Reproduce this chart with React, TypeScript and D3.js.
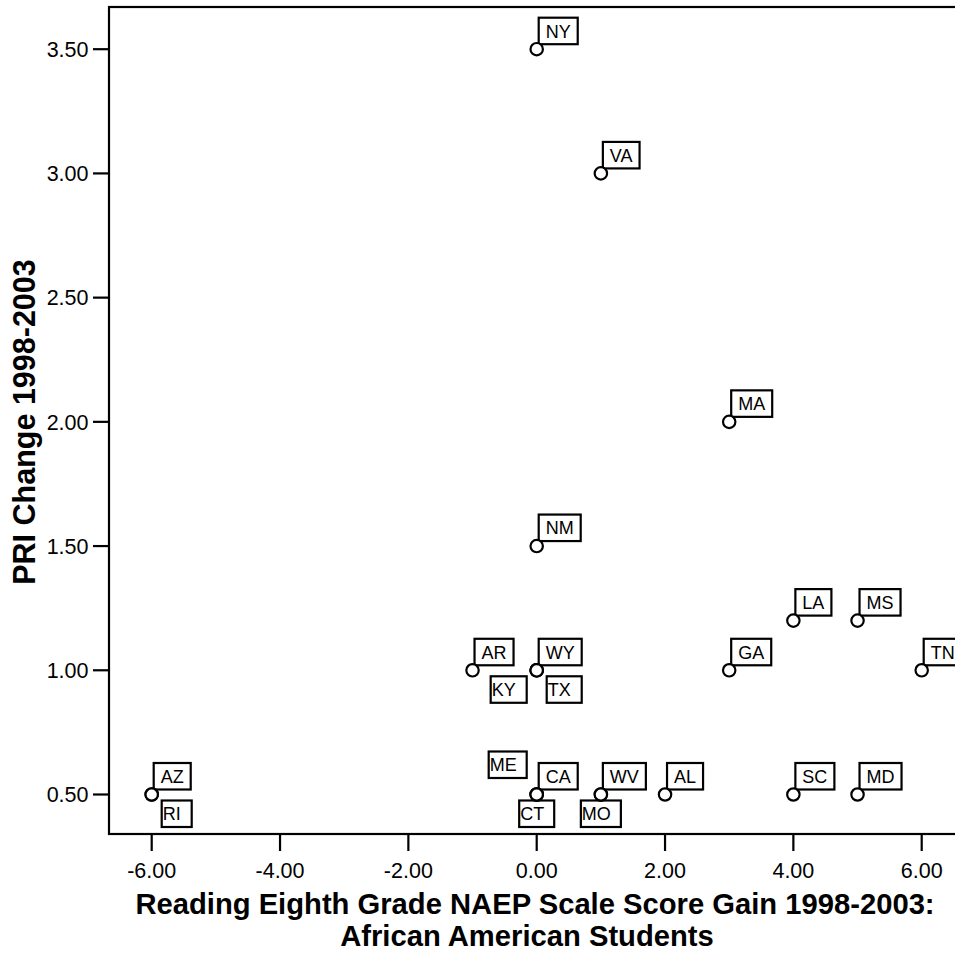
import React, { useEffect, useRef } from "react";
import * as d3 from "d3";

const states = ["NY", "VA", "MA", "NM", "LA", "MS", "AR", "WY", "KY", "TX", "GA", "TN", "AZ", "RI", "ME", "CA", "CT", "WV", "MO", "AL", "SC", "MD"];
const naepGain = [0, 1, 3, 0, 4, 5, -1, 0, 0, 0, 3, 6, -6, -6, 0, 0, 0, 1, 1, 2, 4, 5];
const priChange = [3.5, 3.0, 2.0, 1.5, 1.2, 1.2, 1.0, 1.0, 1.0, 1.0, 1.0, 1.0, 0.5, 0.5, 0.5, 0.5, 0.5, 0.5, 0.5, 0.5, 0.5, 0.5];
// label placement relative to its point: ur upper-right, lr lower-right, ll lower-left, ul upper-left, b below
const placement = ["ur", "ur", "ur", "ur", "ur", "ur", "ur", "ur", "ll", "lr", "ur", "ur", "ur", "lr", "ul", "ur", "b", "ur", "b", "ur", "ur", "ur"];
const xTicks = [-6, -4, -2, 0, 2, 4, 6];
const yTicks = [0.5, 1.0, 1.5, 2.0, 2.5, 3.0, 3.5];

const FONT = "'Liberation Sans', Arial, Helvetica, sans-serif";
const fmt = (v: number) => d3.format(".2f")(v).replace("\u2212", "-");

export default function App() {
  const ref = useRef<SVGSVGElement>(null);

  useEffect(() => {
    const svg = d3.select(ref.current);
    svg.selectAll("*").remove();

    const x = d3.scaleLinear().domain([-6, 6]).range([151.7, 921.7]);
    const y = d3.scaleLinear().domain([0.5, 3.5]).range([794.5, 49.2]);

    const frameLeft = 109, frameTop = 7, frameBottom = 834;

    // frame
    svg.append("rect")
      .attr("x", frameLeft).attr("y", frameTop)
      .attr("width", 1000).attr("height", frameBottom - frameTop)
      .attr("fill", "white").attr("stroke", "black").attr("stroke-width", 2.2);

    // y axis ticks
    const yg = svg.append("g");
    yTicks.forEach((t) => {
      yg.append("line").attr("x1", 93).attr("x2", frameLeft).attr("y1", y(t)).attr("y2", y(t))
        .attr("stroke", "black").attr("stroke-width", 2.2);
      yg.append("text").attr("x", 88.5).attr("y", y(t)).attr("dy", "0.36em")
        .attr("text-anchor", "end").attr("font-family", FONT).attr("font-size", 21.5)
        .text(fmt(t));
    });

    // x axis ticks
    const xg = svg.append("g");
    xTicks.forEach((t) => {
      xg.append("line").attr("x1", x(t)).attr("x2", x(t)).attr("y1", frameBottom).attr("y2", 851)
        .attr("stroke", "black").attr("stroke-width", 2.2);
      xg.append("text").attr("x", x(t)).attr("y", 877.5)
        .attr("text-anchor", "middle").attr("font-family", FONT).attr("font-size", 21.5)
        .text(fmt(t));
    });

    // axis titles
    const xt = svg.append("text")
      .attr("text-anchor", "middle").attr("font-family", FONT).attr("font-size", 29.2).attr("font-weight", "bold");
    xt.append("tspan").attr("x", 535).attr("y", 913.5).text("Reading Eighth Grade NAEP Scale Score Gain 1998-2003:");
    xt.append("tspan").attr("x", 527).attr("y", 946).text("African American Students");

    svg.append("text")
      .attr("transform", `translate(35,422) rotate(-90)`)
      .attr("text-anchor", "middle").attr("font-family", FONT).attr("font-size", 30.5).attr("font-weight", "bold")
      .text("PRI Change 1998-2003");

    // labels
    const lg = svg.append("g");
    const boxH = 26.5;
    states.forEach((s, i) => {
      const px = x(naepGain[i]);
      const py = y(priChange[i]);
      const p = placement[i];
      const g = lg.append("g");
      const rect = g.append("rect").attr("fill", "white").attr("stroke", "black").attr("stroke-width", 2.2);
      const txt = g.append("text").attr("font-family", FONT).attr("font-size", 18).text(s);
      const tw = (txt.node() as SVGTextElement).getComputedTextLength();
      let left = 0, top = 0, w = 0, pad = 0;
      if (p === "ur") {
        w = tw + 14; pad = 7; left = px + 2; top = py - 5 - boxH;
      } else if (p === "lr") {
        w = tw + 12; pad = 1; left = px + 10; top = py + 6;
      } else if (p === "ll") {
        w = tw + 12; pad = 1; left = px - 10 - w; top = py + 6;
      } else if (p === "ul") {
        w = tw + 11; pad = 1; left = px - 10 - w; top = py - 16.5 - boxH;
      } else {
        w = tw + 11; pad = 1; left = px - w / 2; top = py + 6;
      }
      rect.attr("x", left).attr("y", top).attr("width", w).attr("height", boxH);
      txt.attr("x", left + pad).attr("y", top + boxH - 6.6);
    });

    // points
    const pg = svg.append("g");
    states.forEach((s, i) => {
      pg.append("circle").attr("cx", x(naepGain[i])).attr("cy", y(priChange[i])).attr("r", 6.2)
        .attr("fill", "white").attr("stroke", "black").attr("stroke-width", 2.2);
    });
  }, []);

  return (
    <svg
      ref={ref}
      width={955}
      height={953}
      style={{ position: "absolute", left: 0, top: 0, background: "white" }}
    />
  );
}
